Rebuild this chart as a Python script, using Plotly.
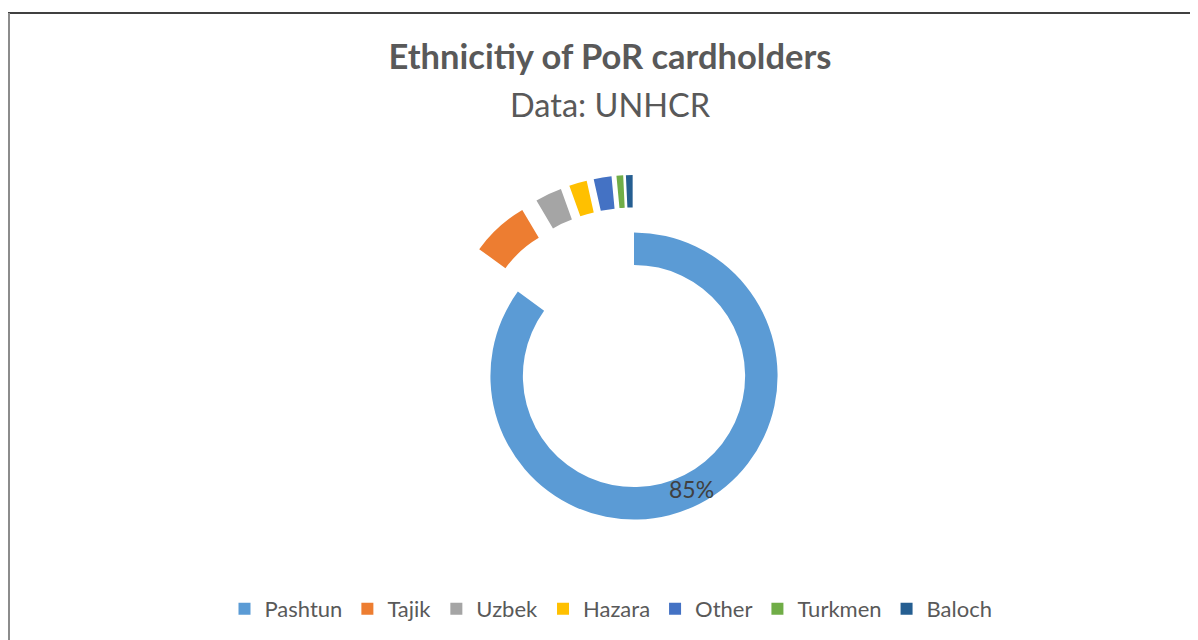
import math
import plotly.graph_objects as go

# Data (share of PoR cardholders, %)
categories = ["Pashtun", "Tajik", "Uzbek", "Hazara", "Other", "Turkmen", "Baloch"]
values = [85, 6.5, 3, 2, 2, 0.75, 0.75]
colors = ["#5B9BD5", "#ED7D31", "#A5A5A5", "#FFC000", "#4472C4", "#70AD47", "#255E91"]
pulls = [0, 0.4, 0.4, 0.4, 0.4, 0.4, 0.4]

W, H = 1198, 640
FONT = "Lato"
HOLE = 0.774

# pie placement (figure pixels)
CX, CY, HALF = 626, 368, 201
dom_x = [(CX - HALF) / W, (CX + HALF) / W]
dom_y = [(H - CY - HALF) / H, (H - CY + HALF) / H]

fig = go.Figure()
fig.add_trace(go.Pie(
    labels=categories,
    values=values,
    marker=dict(colors=colors, line=dict(width=0)),
    pull=pulls,
    hole=HOLE,
    sort=False,
    direction="clockwise",
    rotation=0,
    textinfo="none",
    domain=dict(x=dom_x, y=dom_y),
    hoverinfo="label+percent",
))

# percentage label for the largest slice, placed at its mid-angle on the ring
total = sum(values)
r_outer = HALF / (1 + max(pulls))
r_mid = (1 + HOLE) / 2 * r_outer
theta = 2 * math.pi * (values[0] / 2) / total
lx = CX + r_mid * math.sin(theta)
ly = CY - r_mid * math.cos(theta)
pct_label = f"{round(100 * values[0] / total)}%"

fig.update_layout(
    width=W, height=H,
    margin=dict(l=0, r=0, t=0, b=0),
    paper_bgcolor="white",
    plot_bgcolor="white",
    font=dict(family=FONT, color="#595959"),
    title=dict(text="<b>Ethnicitiy of PoR cardholders</b>",
               x=0.5 + 3 / W, xanchor="center", y=1 - 49 / H, yanchor="middle",
               yref="container",
               font=dict(family=FONT, size=34.5, color="#595959")),
    annotations=[
        dict(text="Data: UNHCR", xref="paper", yref="paper",
             x=0.5 + 3 / W, y=1 - 96 / H, xanchor="center", yanchor="middle",
             showarrow=False,
             font=dict(family=FONT, size=32.5, color="#595959")),
        dict(text=pct_label, xref="paper", yref="paper",
             x=lx / W, y=1 - ly / H, xanchor="center", yanchor="middle",
             showarrow=False,
             font=dict(family=FONT, size=23, color="#404040")),
    ],
    legend=dict(orientation="h", x=0.5 + 4 / W, xanchor="center",
                y=1 - 601 / H, yanchor="middle",
                font=dict(family=FONT, size=22, color="#595959"),
                traceorder="normal"),
    shapes=[
        dict(type="line", xref="paper", yref="paper",
             x0=0, x1=1, y0=1 - 5 / H, y1=1 - 5 / H,
             line=dict(color="#000000", width=1.5)),
        dict(type="line", xref="paper", yref="paper",
             x0=1 / W, x1=1 / W, y0=0, y1=1 - 5 / H,
             line=dict(color="#8C8C8C", width=2)),
    ],
)

fig.write_html("out.html")
